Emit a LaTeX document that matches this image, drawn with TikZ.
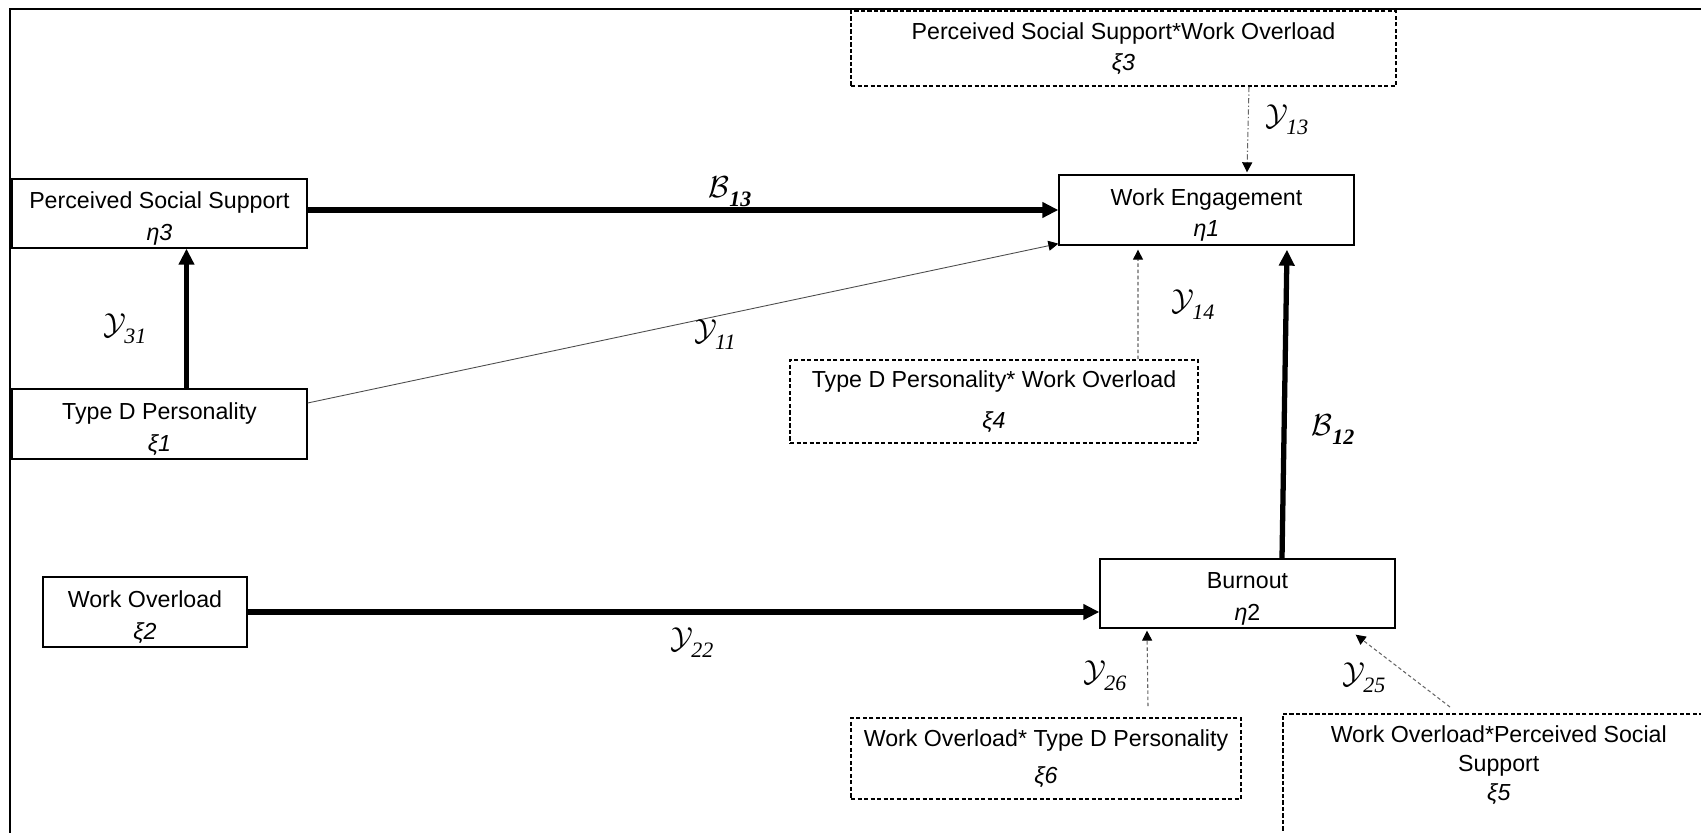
\documentclass[tikz,border=0pt]{standalone}
\usepackage{fontspec}
\setmainfont{Liberation Sans}
\newfontfamily\subfont{Liberation Serif}
\usetikzlibrary{arrows.meta}

\newcommand{\gammalab}[1]{$\mathcal{Y}$\kern-0.06em\raisebox{-0.5ex}{\subfont\itshape\fontsize{12.5}{13}\selectfont #1}}
\newcommand{\betalab}[1]{$\mathcal{B}$\raisebox{-0.5ex}{\subfont\bfseries\itshape\fontsize{12.5}{13}\selectfont #1}}
\newcommand{\lowstrut}{\rule{0pt}{1.15em}}

\begin{document}
\begin{tikzpicture}[
  latent/.style={draw, line width=0.75pt, inner sep=0pt, align=center, minimum height=1.4cm, font=\fontsize{13.2}{18}\selectfont},
  inter/.style={latent, line width=0.9pt, dash pattern=on 2.4pt off 1.3pt},
  strong/.style={line width=3pt, -{Triangle[length=0.32cm,width=0.3cm]}},
  weak/.style={line width=0.5pt, draw=black!70, -{Triangle[length=0.2cm,width=0.2cm,color=black]}},
  mod/.style={line width=0.6pt, draw=black!60, dash pattern=on 2pt off 1.5pt, -{Triangle[length=0.2cm,width=0.2cm,color=black]}},
  moddot/.style={mod, dash pattern=on 3pt off 1.3pt on 0.8pt off 1.3pt},
  coef/.style={inner sep=0pt, font=\fontsize{19}{21}\selectfont}
]
\useasboundingbox (0,0) rectangle (34.02,-16.66);
\clip (0,0) rectangle (34.02,-16.66);

% frame
\draw[line width=1pt] (0.2,-17) -- (0.2,-0.18) -- (35,-0.18);

% latent variables
\node[latent, minimum width=5.9cm, minimum height=1.38cm] (eta3) at (3.19,-4.27) {\lowstrut Perceived Social Support\\{\itshape η3}};
\node[latent, minimum width=5.9cm] (xi1) at (3.19,-8.48) {\lowstrut Type D Personality\\{\itshape ξ1}};
\node[latent, minimum width=4.08cm] (xi2) at (2.90,-12.24) {\lowstrut Work Overload\\{\itshape ξ2}};
\node[latent, minimum width=5.9cm] (eta1) at (24.13,-4.20) {\lowstrut Work Engagement\\{\itshape η1}};
\node[latent, minimum width=5.9cm, minimum height=1.38cm] (eta2) at (24.95,-11.87) {\lowstrut Burnout\\{\itshape η}2};

% interaction terms
\node[inter, minimum width=10.9cm, minimum height=1.5cm] (xi3) at (22.47,-0.97) {Perceived Social Support*Work Overload\\{\itshape ξ3}};
\node[inter, minimum width=8.16cm, minimum height=1.66cm] (xi4) at (19.88,-8.03) {Type D Personality* Work Overload\\[0.18cm]{\itshape ξ4}};
\node[inter, minimum width=7.8cm, minimum height=1.62cm] (xi6) at (20.92,-15.17) {Work Overload* Type D Personality\\[0.12cm]{\itshape ξ6}};
\node[inter, anchor=north west, minimum width=8.64cm, inner ysep=0.24cm, font=\fontsize{13.2}{16.5}\selectfont] (xi5) at (25.64,-14.26) {Work Overload*Perceived Social\\Support\\{\itshape ξ5}\\\rule{0pt}{1cm}};

% paths
\draw[strong] (eta3.east |- eta1.west) -- (eta1.west);
\draw[strong] ([xshift=0.54cm]xi1.north) -- ([xshift=0.54cm]eta3.south);
\draw[weak] ([yshift=0.42cm]xi1.east) -- ([yshift=0.04cm]eta1.south west);
\draw[strong] (xi2.east) -- (xi2.east -| eta2.west);
\draw[strong] ([xshift=0.69cm]eta2.north) -- ([xshift=1.61cm,yshift=-0.08cm]eta1.south);
\draw[moddot] ([xshift=2.51cm]xi3.south) -- ([xshift=0.81cm,yshift=0.04cm]eta1.north);
\draw[mod] ([xshift=2.88cm]xi4.north) -- ([xshift=-1.37cm,yshift=-0.08cm]eta1.south);
\draw[mod] ([xshift=2.04cm,yshift=0.22cm]xi6.north) -- ([xshift=-2.01cm,yshift=-0.04cm]eta2.south);
\draw[mod] ([xshift=3.36cm,yshift=0.12cm]xi5.north west) -- ([xshift=-0.8cm,yshift=-0.12cm]eta2.south east);

% coefficients
\node[coef] (b13) at (14.60,-3.84) {\betalab{13}};
\node[coef] (g11) at (14.30,-6.70) {\gammalab{11}};
\node[coef] (g31) at (2.50,-6.58) {\gammalab{31}};
\node[coef] (g13) at (25.74,-2.40) {\gammalab{13}};
\node[coef] (g14) at (23.86,-6.10) {\gammalab{14}};
\node[coef] (b12) at (26.66,-8.60) {\betalab{12}};
\node[coef] (g22) at (13.84,-12.86) {\gammalab{22}};
\node[coef] (g26) at (22.10,-13.52) {\gammalab{26}};
\node[coef] (g25) at (27.28,-13.56) {\gammalab{25}};
\end{tikzpicture}
\end{document}
